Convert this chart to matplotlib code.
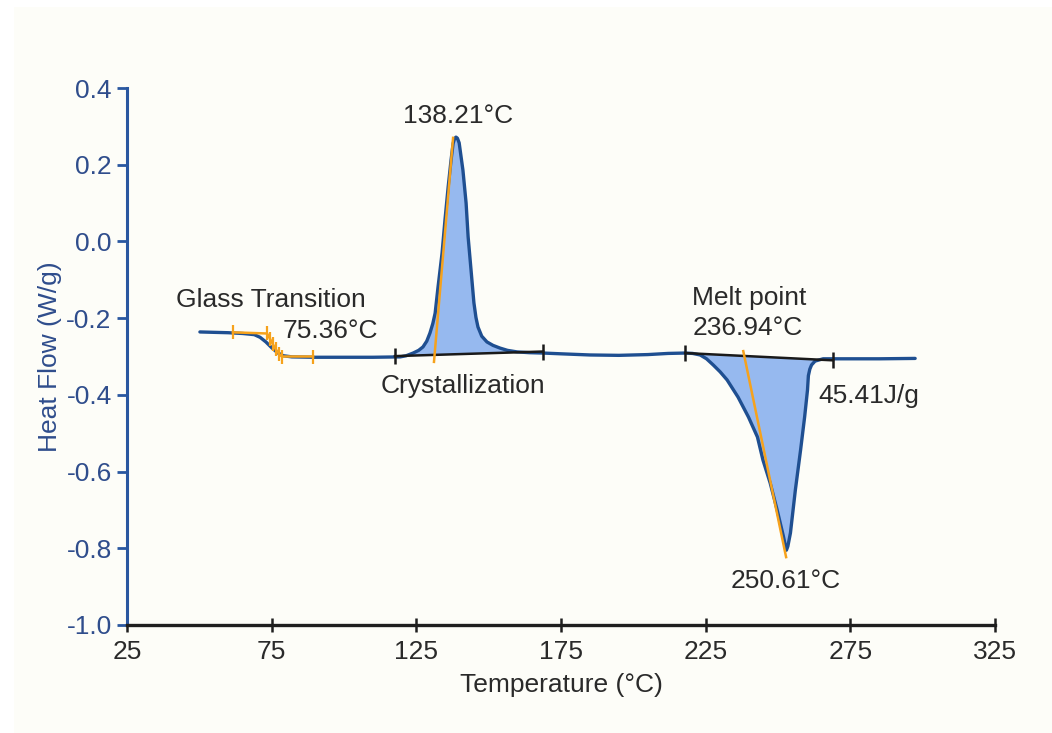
import numpy as np
import matplotlib.pyplot as plt
from matplotlib.patches import Rectangle

plt.rcParams['font.family'] = ['Liberation Sans', 'DejaVu Sans']
plt.rcParams['axes.unicode_minus'] = False

# DSC scan: temperature (C) and heat flow (W/g)
temp = [50.2, 55, 60, 65, 69, 71, 73, 75, 77, 79, 82, 90, 100, 110, 119.4,
        121.5, 123.9, 125.8, 127.3, 128.6, 129.7, 130.7, 131.5, 132.5, 133.9,
        134.9, 136.0, 137.0, 137.7, 138.2, 138.7, 139.2, 139.8, 141.1, 142.2,
        142.9, 143.9, 144.9, 145.6, 146.3, 147.6, 149.4, 151.5, 153.9, 156.5,
        159.8, 164, 168.8, 175, 185, 195, 205, 212, 217.9, 220.5, 223.1,
        225.3, 227.6, 230, 232.4, 236.2, 239.8, 242.9, 244.8, 247.3, 249.7,
        251.9, 252.6, 252.9, 253.4, 254.3, 256.0, 257.8, 259.2, 260.2, 260.5,
        261.0, 261.6, 262.8, 265.6, 269.0, 275, 285, 297.4]
heat_flow = [-0.236, -0.237, -0.238, -0.240, -0.243, -0.250, -0.262, -0.277,
             -0.290, -0.298, -0.301, -0.302, -0.302, -0.302, -0.301,
             -0.298, -0.291, -0.284, -0.275, -0.260, -0.239, -0.214, -0.187,
             -0.119, -0.030, 0.056, 0.142, 0.212, 0.255, 0.268, 0.272, 0.269,
             0.257, 0.186, 0.100, 0.012, -0.074, -0.160, -0.198, -0.223,
             -0.247, -0.262, -0.271, -0.278, -0.284, -0.288, -0.290, -0.291,
             -0.293, -0.296, -0.297, -0.295, -0.292, -0.291, -0.292, -0.296,
             -0.306, -0.322, -0.340, -0.361, -0.406, -0.458, -0.510, -0.570,
             -0.630, -0.700, -0.770, -0.795, -0.805, -0.795, -0.760, -0.648,
             -0.544, -0.458, -0.387, -0.350, -0.333, -0.322, -0.312, -0.306,
             -0.306, -0.306, -0.306, -0.305]

# integration baselines (start/end of each peak)
cryst_base_t = [117.6, 168.8]
cryst_base_hf = [-0.299, -0.287]
melt_base_t = [217.9, 269.0]
melt_base_hf = [-0.291, -0.310]

# onset tangents
cryst_tan_t = [131.1, 137.7]
cryst_tan_hf = [-0.314, 0.270]
melt_tan_t = [238.0, 252.8]
melt_tan_hf = [-0.286, -0.823]

# glass transition analysis
gt_t = [61.6, 73.4, 74.5, 75.4, 76.4, 77.5, 78.5, 89.3]
gt_hf = [-0.237, -0.240, -0.255, -0.268, -0.281, -0.293, -0.300, -0.300]

x_ticks = [25, 75, 125, 175, 225, 275, 325]
y_ticks = [-1.0, -0.8, -0.6, -0.4, -0.2, 0.0, 0.2, 0.4]
y_labels = ['-1.0', '-0.8', '-0.6', '-0.4', '-0.2', '0.0', '0.2', '0.4']

blue = '#1f4f91'
orange = '#f6a21c'
fill_c = '#96b9ef'
txt = '#2a2a2a'

fig = plt.figure(figsize=(10.52, 7.33), dpi=100)
fig.patch.set_facecolor('white')
fig.patches.append(Rectangle((14 / 1052, 0), 1, 1 - 7 / 733, transform=fig.transFigure,
                             facecolor='#fdfdf8', edgecolor='none', zorder=-10))

ax = fig.add_axes([127 / 1052, 108 / 733, 868 / 1052, 537 / 733])
ax.set_facecolor('none')

t = np.array(temp)
hf = np.array(heat_flow)

# shaded peak areas between curve and baseline
m = (t >= cryst_base_t[0]) & (t <= cryst_base_t[1])
base = np.interp(t[m], cryst_base_t, cryst_base_hf)
ax.fill_between(t[m], hf[m], base, where=hf[m] >= base, color=fill_c, lw=0, interpolate=True)
m = (t >= melt_base_t[0]) & (t <= melt_base_t[1])
base = np.interp(t[m], melt_base_t, melt_base_hf)
ax.fill_between(t[m], hf[m], base, where=hf[m] <= base, color=fill_c, lw=0, interpolate=True)

ax.plot(temp, heat_flow, color=blue, lw=2.4, solid_capstyle='round',
        solid_joinstyle='round', zorder=3)

ax.plot(cryst_base_t, cryst_base_hf, color='#1a1a1a', lw=1.8, zorder=4,
        marker='|', ms=12, mew=1.8)
ax.plot(melt_base_t, melt_base_hf, color='#1a1a1a', lw=1.8, zorder=4,
        marker='|', ms=12, mew=1.8)
ax.plot(cryst_tan_t, cryst_tan_hf, color=orange, lw=1.8, zorder=5)
ax.plot(melt_tan_t, melt_tan_hf, color=orange, lw=1.8, zorder=5)
ax.plot(gt_t, gt_hf, color=orange, lw=1.8, zorder=5, marker='|', ms=10, mew=1.6)

fs = 19
ax.text(74.8, -0.171, 'Glass Transition', fontsize=fs, color=txt, ha='center', va='baseline')
ax.text(95.2, -0.252, '75.36°C', fontsize=fs, color=txt, ha='center', va='baseline')
ax.text(139.4, 0.309, '138.21°C', fontsize=fs, color=txt, ha='center', va='baseline')
ax.text(141.1, -0.395, 'Crystallization', fontsize=fs, color=txt, ha='center', va='baseline')
ax.text(240.0, -0.166, 'Melt point', fontsize=fs, color=txt, ha='center', va='baseline')
ax.text(239.6, -0.244, '236.94°C', fontsize=fs, color=txt, ha='center', va='baseline')
ax.text(281.5, -0.421, '45.41J/g', fontsize=fs, color=txt, ha='center', va='baseline')
ax.text(252.8, -0.903, '250.61°C', fontsize=fs, color=txt, ha='center', va='baseline')

ax.set_xlim(25, 325)
ax.set_ylim(-1.0, 0.4)
ax.set_xticks(x_ticks)
ax.set_yticks(y_ticks)
ax.set_yticklabels(y_labels)

for s in ['top', 'right']:
    ax.spines[s].set_visible(False)
ax.spines['left'].set_color('#2a57a0')
ax.spines['left'].set_linewidth(2.2)
ax.spines['bottom'].set_color('#1f1f1f')
ax.spines['bottom'].set_linewidth(2.4)

ax.tick_params(axis='y', colors='#2a57a0', labelcolor='#2f4d8c', labelsize=fs,
               direction='out', length=7, width=2, pad=4)
ax.tick_params(axis='x', colors='#1f1f1f', labelcolor=txt, labelsize=fs,
               direction='inout', length=10, width=1.8, pad=6)

ax.set_xlabel('Temperature (°C)', fontsize=fs, color=txt, labelpad=6)
ax.set_ylabel('Heat Flow (W/g)', fontsize=fs, color='#2f4d8c', labelpad=3)

fig.savefig('out.png', dpi=100, facecolor=fig.get_facecolor())
